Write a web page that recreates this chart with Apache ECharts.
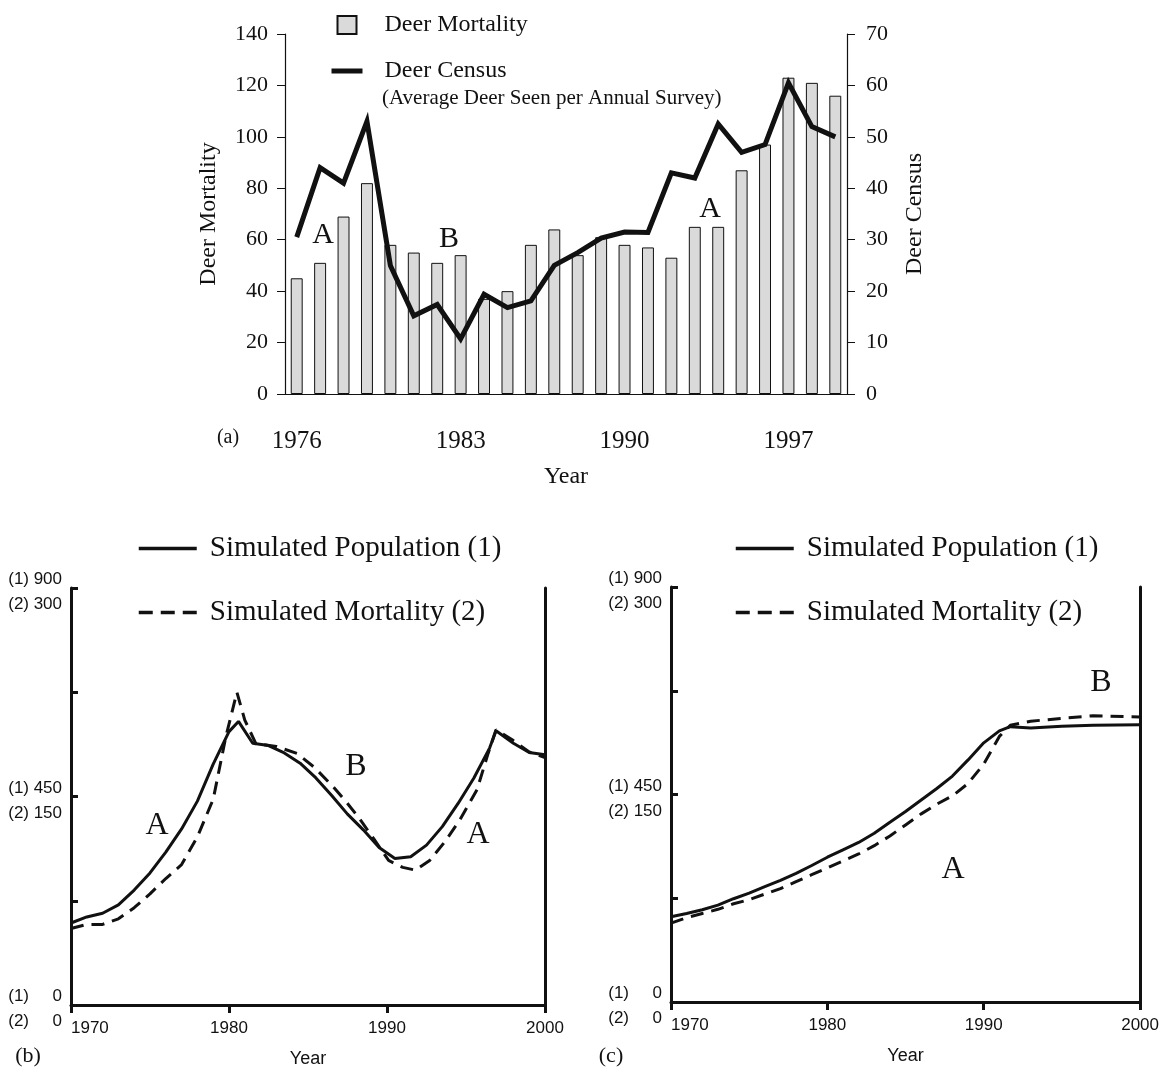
<!DOCTYPE html>
<html>
<head>
<meta charset="utf-8">
<script src="https://cdn.jsdelivr.net/npm/echarts@6/dist/echarts.min.js"></script>
<style>
html, body { margin: 0; padding: 0; background: #fff; }
#main { width: 1162px; height: 1071px; }
</style>
</head>
<body>
<div id="main"></div>
<script>
// (a) field data
var years = ['1976', '1977', '1978', '1979', '1980', '1981', '1982', '1983', '1984', '1985', '1986', '1987',
    '1988', '1989', '1990', '1991', '1992', '1993', '1994', '1995', '1996', '1997', '1998', '1999'];
var deerMortality = [45, 51, 69, 82, 58, 55, 51, 54, 37, 40, 58, 64, 54, 61, 58, 57, 53, 65, 65, 87, 97, 123, 121, 116];
var deerCensus = [30.5, 44, 41, 53, 25, 15.2, 17.4, 10.7, 19.4, 16.8, 18.1, 25, 27.5, 30.3, 31.5, 31.4, 43, 42, 52.5, 47, 48.5, 60.5, 52, 50];

// (b) simulation, [year, value]
var popB = [[1970, 177], [1971, 190], [1972, 198], [1973, 216], [1974, 248], [1975, 285], [1976, 330], [1977, 380],
    [1978, 440], [1979, 520], [1980, 590], [1980.6, 612], [1981.5, 565], [1982.5, 560], [1983.5, 544], [1984.5, 522],
    [1985.5, 490], [1986.5, 452], [1987.5, 412], [1988.5, 378], [1989.5, 340], [1990.5, 316], [1991.5, 320],
    [1992.5, 345], [1993.5, 385], [1994.5, 435], [1995.5, 490], [1996.5, 555], [1996.9, 592], [1998, 565],
    [1999, 545], [2000, 540]];
var mortB = [[1970, 55], [1971, 58], [1972, 58], [1973, 62], [1974, 70], [1975, 80], [1976, 91], [1977, 101],
    [1978, 121], [1979, 148], [1979.8, 193], [1980.5, 225], [1981, 205], [1981.7, 188], [1983, 186], [1984.3, 181],
    [1985.4, 171], [1986.6, 157], [1987.5, 145], [1988.2, 135], [1989.2, 119], [1990.1, 104], [1991, 99],
    [1991.8, 97], [1992.7, 104], [1993.7, 118], [1994.6, 133], [1995.7, 155], [1996.4, 181], [1996.9, 198],
    [1997.9, 191], [1999, 182], [2000, 178]];

// (c) simulation
var popC = [[1970, 185], [1971, 192], [1972, 200], [1973, 210], [1974, 224], [1975, 236], [1976, 250], [1977, 264],
    [1978, 279], [1979, 296], [1980, 314], [1981, 330], [1982, 346], [1983, 366], [1984, 390], [1985, 413],
    [1986, 438], [1987, 463], [1988, 490], [1989, 525], [1990, 562], [1991, 588], [1991.7, 597], [1993, 594],
    [1995, 598], [1997, 600], [2000, 601]];
var mortC = [[1970, 57], [1971, 61], [1972, 64], [1973, 67], [1974, 71], [1975, 74], [1976, 78], [1977, 82],
    [1978, 87], [1979, 92], [1980, 97], [1981, 102], [1982, 107], [1983, 113], [1984, 120], [1985, 128],
    [1986, 136], [1987, 143], [1988, 149], [1989, 158], [1990, 172], [1991, 192], [1991.7, 200], [1993, 203],
    [1995, 205], [1997, 207], [2000, 206]];

var popTicks = [0, 450, 900];
var mortTicks = [0, 150, 300];

var serif = 'Liberation Serif';
var sans = 'Liberation Sans';
var ink = '#111';

function dualLabel(v) {
    var i = popTicks.indexOf(v);
    if (i < 0) return '';
    return '{a|(1)}{b|' + popTicks[i] + '}\n{a|(2)}{b|' + mortTicks[i] + '}';
}

function simX(gi) {
    return {
        type: 'value', gridIndex: gi, min: 1970, max: 2000, interval: 10,
        axisLine: { lineStyle: { color: ink, width: 3 } },
        axisTick: { length: 8, lineStyle: { color: ink, width: 3 } },
        axisLabel: {
            color: ink, fontFamily: sans, fontSize: 17, margin: 15, alignMinLabel: 'left',
            formatter: function (v) { return String(v); }
        },
        splitLine: { show: false },
        name: 'Year', nameLocation: 'middle', nameGap: 45,
        nameTextStyle: { color: ink, fontFamily: sans, fontSize: 18 }
    };
}
function simPopY(gi) {
    return {
        type: 'value', gridIndex: gi, min: 0, max: 900, interval: 225, position: 'left',
        axisLine: { show: true, lineStyle: { color: ink, width: 3 } },
        axisTick: { show: true, inside: true, length: 7, lineStyle: { color: ink, width: 3 } },
        axisLabel: {
            margin: 9, formatter: dualLabel, padding: [8, 0, 0, 0],
            rich: {
                a: { fontFamily: sans, fontSize: 17, color: ink, width: 22, lineHeight: 25 },
                b: { fontFamily: sans, fontSize: 17, color: ink, width: 33, align: 'right', lineHeight: 25 }
            }
        },
        splitLine: { show: false }
    };
}
function simMortY(gi) {
    return {
        type: 'value', gridIndex: gi, min: 0, max: 300, position: 'right',
        axisLine: { show: true, lineStyle: { color: ink, width: 3 } },
        axisTick: { show: false }, axisLabel: { show: false }, splitLine: { show: false }
    };
}
function simLegend(left) {
    return {
        left: left, top: 534, padding: 0, orient: 'vertical', itemGap: 35, itemWidth: 58, itemHeight: 14,
        textStyle: { fontFamily: serif, fontSize: 29, color: ink, padding: [0, 0, 0, 8] },
        data: [
            { name: 'Simulated Population (1)', itemStyle: { opacity: 0 }, lineStyle: { width: 3.5, color: ink } },
            { name: 'Simulated Mortality (2)', itemStyle: { opacity: 0 }, lineStyle: { width: 3.5, color: ink, type: [14, 8] } }
        ]
    };
}
function txt(x, y, s, size, fam) {
    return {
        type: 'text', x: x, y: y, silent: true,
        style: { text: s, fontFamily: fam || serif, fontSize: size, fill: ink, textAlign: 'center', textVerticalAlign: 'middle' }
    };
}

var chart = echarts.init(document.getElementById('main'));
var option = {
    backgroundColor: '#fff',
    animation: false,
    grid: [
        { left: 285, right: 315, top: 34, bottom: 677 },
        { left: 71, right: 617, top: 588, bottom: 66 },
        { left: 671, right: 19, top: 587, bottom: 69 }
    ],
    legend: [
        {
            left: 329, top: 13, padding: 0, orient: 'vertical', itemGap: 22, itemWidth: 31, itemHeight: 18,
            textStyle: { fontFamily: serif, fontSize: 24, color: ink, padding: [0, 0, 0, 17] },
            data: [
                { name: 'Deer Mortality', icon: 'path://M0,0h19v18h-19z' },
                { name: 'Deer Census', itemStyle: { opacity: 0 }, lineStyle: { width: 5, color: ink } }
            ]
        },
        simLegend(137),
        simLegend(734)
    ],
    xAxis: [
        {
            type: 'category', gridIndex: 0, data: years, position: 'bottom',
            axisLine: { lineStyle: { color: ink, width: 1.2 } },
            axisTick: { interval: 0, length: 11, lineStyle: { color: ink } },
            axisLabel: { interval: 6, color: ink, fontFamily: serif, fontSize: 25, margin: 35 },
            name: 'Year', nameLocation: 'middle', nameGap: 71,
            nameTextStyle: { color: ink, fontFamily: serif, fontSize: 24 }
        },
        {
            type: 'category', gridIndex: 0, data: years, position: 'bottom',
            axisLine: { show: false },
            axisTick: { interval: 0, inside: true, length: 12, lineStyle: { color: ink } },
            axisLabel: { show: false }
        },
        simX(1),
        simX(2)
    ],
    yAxis: [
        {
            type: 'value', gridIndex: 0, min: 0, max: 140, interval: 20, position: 'left',
            axisLine: { show: true, lineStyle: { color: ink, width: 1.2 } },
            axisTick: { show: true, length: 8, lineStyle: { color: ink } },
            axisLabel: { color: ink, fontFamily: serif, fontSize: 22, margin: 17 },
            splitLine: { show: false },
            name: 'Deer Mortality', nameLocation: 'middle', nameGap: 64, nameRotate: 90,
            nameTextStyle: { color: ink, fontFamily: serif, fontSize: 24 }
        },
        {
            type: 'value', gridIndex: 0, min: 0, max: 70, interval: 10, position: 'right',
            axisLine: { show: true, lineStyle: { color: ink, width: 1.2 } },
            axisTick: { show: true, length: 8, lineStyle: { color: ink } },
            axisLabel: { color: ink, fontFamily: serif, fontSize: 22, margin: 19 },
            splitLine: { show: false },
            name: 'Deer Census', nameLocation: 'middle', nameGap: 56, nameRotate: 90,
            nameTextStyle: { color: ink, fontFamily: serif, fontSize: 24 }
        },
        simPopY(1), simMortY(1),
        simPopY(2), simMortY(2)
    ],
    series: [
        {
            name: 'Deer Mortality', type: 'bar', xAxisIndex: 0, yAxisIndex: 0, data: deerMortality,
            barWidth: '51%',
            itemStyle: { color: '#dadada', borderColor: ink, borderWidth: 1 }
        },
        {
            name: 'Deer Census', type: 'line', xAxisIndex: 0, yAxisIndex: 1, data: deerCensus,
            symbol: 'none', z: 5,
            lineStyle: { color: ink, width: 5, join: 'miter' }, itemStyle: { color: ink }
        },
        {
            name: 'Simulated Population (1)', type: 'line', xAxisIndex: 2, yAxisIndex: 2, data: popB,
            symbol: 'none', lineStyle: { color: ink, width: 3 }, itemStyle: { color: ink }
        },
        {
            name: 'Simulated Mortality (2)', type: 'line', xAxisIndex: 2, yAxisIndex: 3, data: mortB,
            symbol: 'none', lineStyle: { color: ink, width: 3, type: [13, 8] }, itemStyle: { color: ink }
        },
        {
            name: 'Simulated Population (1)', type: 'line', xAxisIndex: 3, yAxisIndex: 4, data: popC,
            symbol: 'none', lineStyle: { color: ink, width: 3 }, itemStyle: { color: ink }
        },
        {
            name: 'Simulated Mortality (2)', type: 'line', xAxisIndex: 3, yAxisIndex: 5, data: mortC,
            symbol: 'none', lineStyle: { color: ink, width: 3, type: [13, 8] }, itemStyle: { color: ink }
        }
    ],
    graphic: [
        {
            type: 'text', left: 382, top: 88, silent: true,
            style: { text: '(Average Deer Seen per Annual Survey)', fontFamily: serif, fontSize: 21, fill: ink }
        },
        txt(228, 438, '(a)', 20),
        txt(323, 235, 'A', 30), txt(449, 239, 'B', 30), txt(710, 209, 'A', 30),
        txt(157, 826, 'A', 32), txt(356, 767, 'B', 32), txt(478, 835, 'A', 32),
        txt(1101, 683, 'B', 32), txt(953, 870, 'A', 32),
        txt(28, 1056, '(b)', 22), txt(611, 1056, '(c)', 22)
    ]
};
chart.setOption(option);
</script>
</body>
</html>
